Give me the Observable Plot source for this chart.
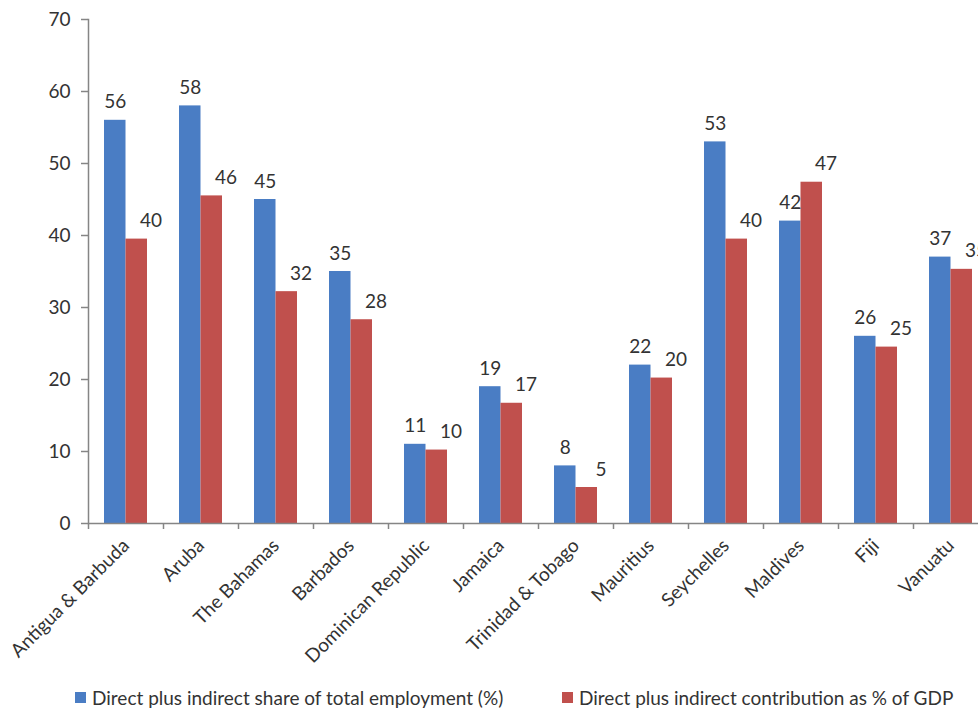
<!DOCTYPE html>
<html>
<head>
<meta charset="utf-8">
<script src="https://cdn.jsdelivr.net/npm/d3@7"></script>
<script src="https://cdn.jsdelivr.net/npm/@observablehq/plot@0.6"></script>
<style>
  html, body { margin: 0; padding: 0; background: #fff; overflow: hidden; }
  #wrap { width: 978px; height: 713px; overflow: hidden; position: relative; font-family: Lato, "Open Sans", sans-serif; }
  #chart svg { display: block; max-width: none !important; }
  #legend { position: relative; height: 38px; font-size: 19px; color: #333; }
  .item { position: absolute; top: 11px; display: flex; align-items: center; white-space: nowrap; }
  .sw { width: 11px; height: 11px; margin-right: 6px; display: inline-block; }
</style>
</head>
<body>
<div id="wrap">
  <div id="chart"></div>
  <div id="legend"></div>
</div>
<script>
const categories = ["Antigua & Barbuda", "Aruba", "The Bahamas", "Barbados", "Dominican Republic", "Jamaica", "Trinidad & Tobago", "Mauritius", "Seychelles", "Maldives", "Fiji", "Vanuatu"];
const employment = [56, 58, 45, 35, 11, 19, 8, 22, 53, 42, 26, 37];
const gdpShare = [39.5, 45.5, 32.2, 28.3, 10.2, 16.7, 5.0, 20.2, 39.5, 47.4, 24.5, 35.3];
const yTicks = [0, 10, 20, 30, 40, 50, 60, 70];
const seriesNames = ["Direct plus indirect share of total employment (%)", "Direct plus indirect contribution as % of GDP"];
const colors = ["#4a7dc4", "#c0504d"];

const data = categories.map((c, i) => ({country: c, emp: employment[i], gdp: gdpShare[i]}));

const textColor = "#333333";
const axisColor = "#858585";
const fs = 19;

const chart = Plot.plot({
  width: 988,
  height: 675,
  marginLeft: 88,
  marginRight: 0,
  marginTop: 19,
  marginBottom: 152,
  style: {fontFamily: "Lato, 'Open Sans', sans-serif", fontSize: fs + "px", color: textColor, background: "#fff", maxWidth: "none"},
  x: {type: "band", domain: categories, paddingInner: 0.427, paddingOuter: 0.2135, align: 0.5, label: null},
  y: {domain: [0, 70], label: null},
  marks: [
    Plot.barY(data, {x: "country", y: "emp", fill: colors[0], insetRight: 21.5}),
    Plot.barY(data, {x: "country", y: "gdp", fill: colors[1], insetLeft: 21.5}),
    Plot.text(data, {x: "country", y: "emp", text: d => String(Math.round(d.emp)), dx: -10.75, dy: -12, lineAnchor: "bottom", fill: textColor, fontSize: fs}),
    Plot.text(data, {x: "country", y: "gdp", text: d => String(Math.round(d.gdp)), dx: 25, dy: -12, lineAnchor: "bottom", fill: textColor, fontSize: fs}),
    Plot.ruleY([0], {stroke: axisColor, strokeWidth: 1.5}),
    Plot.frame({anchor: "left", stroke: axisColor, strokeWidth: 1.5}),
    Plot.axisY({ticks: yTicks, tickSize: 7, tickPadding: 11, stroke: axisColor, strokeWidth: 1.5, fill: textColor, fontSize: fs, label: null}),
    Plot.axisX({tickSize: 6, tickFormat: () => "", dx: -37.5, stroke: axisColor, strokeWidth: 1.5, label: null}),
    Plot.axisX({tickSize: 0, tickPadding: 19, tickRotate: -45, fill: textColor, fontSize: fs, label: null})
  ]
});
chart.style.maxWidth = "none";
document.getElementById("chart").appendChild(chart);

const legend = document.getElementById("legend");
const lefts = [75, 562];
seriesNames.forEach((name, i) => {
  const item = document.createElement("div");
  item.className = "item";
  item.style.left = lefts[i] + "px";
  const sw = document.createElement("span");
  sw.className = "sw";
  sw.style.background = colors[i];
  const t = document.createElement("span");
  t.textContent = name;
  item.appendChild(sw);
  item.appendChild(t);
  legend.appendChild(item);
});
</script>
</body>
</html>
